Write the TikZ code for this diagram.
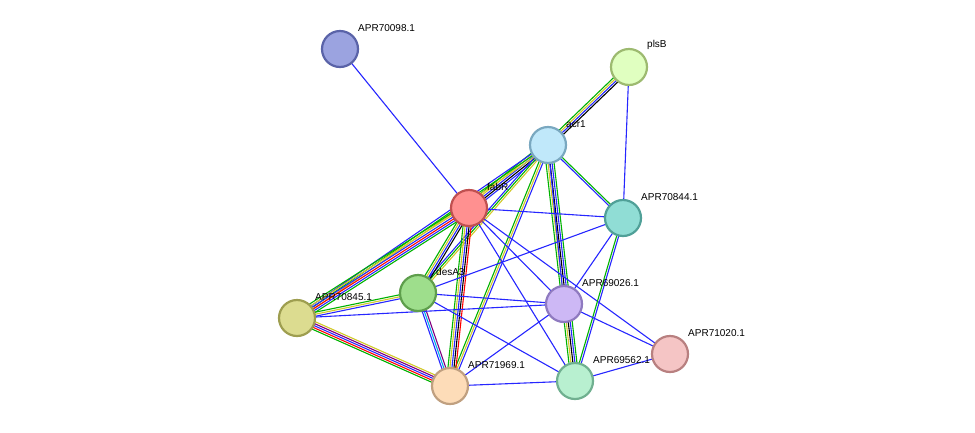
\documentclass[tikz,border=0pt]{standalone}
\usepackage{fontspec}
\setmainfont{Liberation Sans}
\usetikzlibrary{calc}
\tikzset{
  prot/.style={circle,minimum size=36pt,inner sep=0pt,line width=2.2pt},
  lbl/.style={font=\fontsize{10}{11}\selectfont,anchor=south west,inner sep=1pt}
}
\newcommand\edgeM[3]{%
  \foreach \c [count=\i] in {#3}{\xdef\nn{\i}}%
  \foreach \c [count=\i] in {#3}{%
    \pgfmathsetmacro\o{(\i-(\nn+1)/2)*2}%
    \draw[\c,line width=1.1pt] ($(#1)!\o pt!90:(#2)$) -- ($(#2)!\o pt!-90:(#1)$);}}
\begin{document}
\begin{tikzpicture}[x=1pt,y=-1pt]
\useasboundingbox (0,0) rectangle (975,432);
\colorlet{eg}{green!70!black}
\colorlet{ey}{yellow!80!black}
\colorlet{eb}{blue!85!white}
\coordinate (n98) at (340,49);
\coordinate (plsB) at (629,67);
\coordinate (acr1) at (548,145);
\coordinate (fabR) at (469,208);
\coordinate (n44) at (623,218);
\coordinate (desA3) at (418,293);
\coordinate (n26) at (564,304);
\coordinate (n45) at (297,318);
\coordinate (n20) at (670,354);
\coordinate (n69) at (450,386);
\coordinate (n62) at (575,381);
% edges
\edgeM{n98}{fabR}{eb}
\edgeM{plsB}{acr1}{eg,ey,eb,black}
\edgeM{plsB}{n44}{eb}
\edgeM{acr1}{fabR}{eg,ey,eb,black,eb}
\edgeM{acr1}{n44}{eb,eg}
\edgeM{acr1}{desA3}{eb,eg,ey}
\edgeM{acr1}{n45}{eb,eg,ey}
\edgeM{acr1}{n69}{eg,ey,eb}
\edgeM{acr1}{n62}{eg,ey,black,eb,eg}
\edgeM{acr1}{n26}{eb}
\edgeM{fabR}{n44}{eb}
\edgeM{fabR}{desA3}{eg,ey,eb,black}
\edgeM{fabR}{n45}{eg,ey,eb,red,eb,eg}
\edgeM{fabR}{n69}{eg,ey,eb,black,red}
\edgeM{fabR}{n26}{eb}
\edgeM{fabR}{n62}{eb}
\edgeM{fabR}{n20}{eb}
\edgeM{n44}{desA3}{eb}
\edgeM{n44}{n26}{eb}
\edgeM{n44}{n62}{eg,eb}
\edgeM{desA3}{n45}{eg,ey,eb}
\edgeM{desA3}{n69}{eb,cyan,violet}
\edgeM{desA3}{n26}{eb}
\edgeM{desA3}{n62}{eb}
\edgeM{n45}{n26}{eb}
\edgeM{n45}{n69}{eg,red,eb,violet,ey}
\edgeM{n26}{n69}{eb}
\edgeM{n26}{n20}{eb}
\edgeM{n69}{n62}{eb}
\edgeM{n62}{n20}{eb}
% labels
\node[lbl] (l98) at (357,33) {APR70098.1};
\node[lbl] (lp) at (646,51) {plsB};
\node[lbl] (la) at (565,129) {acr1};
\node[lbl] (lf) at (486,192) {fabR};
\node[lbl] (l44) at (640,202) {APR70844.1};
\node[lbl] (ld) at (435,277) {desA3};
\node[lbl] (l26) at (581,288) {APR69026.1};
\node[lbl] (l45) at (314,302) {APR70845.1};
\node[lbl] (l20) at (687,338) {APR71020.1};
\node[lbl] (l69) at (467,370) {APR71969.1};
\node[lbl] (l62) at (592,365) {APR69562.1};
% nodes
\node[prot,fill={rgb,255:red,155;green,163;blue,224},draw={rgb,255:red,90;green,99;blue,168}] (N98) at (n98) {};
\node[prot,fill={rgb,255:red,224;green,255;blue,192},draw={rgb,255:red,157;green,186;blue,112}] (NP) at (plsB) {};
\node[prot,fill={rgb,255:red,192;green,232;blue,250},draw={rgb,255:red,122;green,168;blue,192}] (NA) at (acr1) {};
\node[prot,fill={rgb,255:red,255;green,144;blue,144},draw={rgb,255:red,192;green,80;blue,80}] (NF) at (fabR) {};
\node[prot,fill={rgb,255:red,144;green,221;blue,213},draw={rgb,255:red,80;green,160;blue,152}] (N44) at (n44) {};
\node[prot,fill={rgb,255:red,158;green,222;blue,140},draw={rgb,255:red,94;green,158;blue,76}] (ND) at (desA3) {};
\node[prot,fill={rgb,255:red,205;green,184;blue,245},draw={rgb,255:red,143;green,122;blue,192}] (N26) at (n26) {};
\node[prot,fill={rgb,255:red,220;green,220;blue,144},draw={rgb,255:red,158;green,158;blue,80}] (N45) at (n45) {};
\node[prot,fill={rgb,255:red,245;green,197;blue,197},draw={rgb,255:red,184;green,128;blue,128}] (N20) at (n20) {};
\node[prot,fill={rgb,255:red,253;green,220;blue,184},draw={rgb,255:red,192;green,160;blue,128}] (N69) at (n69) {};
\node[prot,fill={rgb,255:red,184;green,240;blue,208},draw={rgb,255:red,112;green,176;blue,144}] (N62) at (n62) {};
\end{tikzpicture}
\end{document}
